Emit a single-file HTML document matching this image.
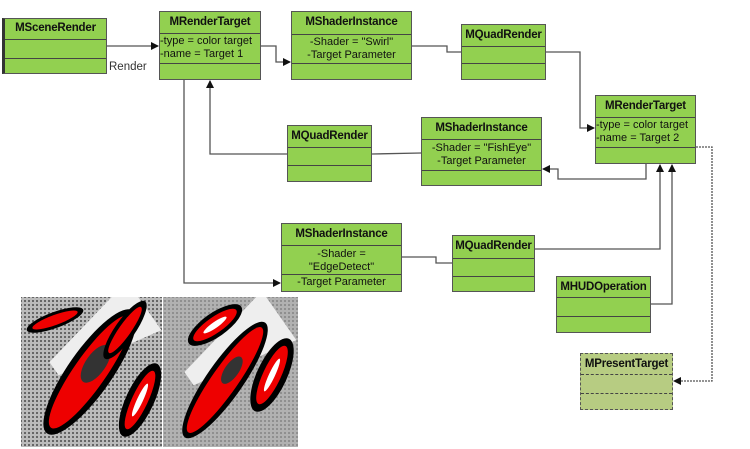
<!DOCTYPE html>
<html><head><meta charset="utf-8"><style>
body{margin:0;width:750px;height:449px;background:#fff;overflow:hidden;position:relative;font-family:"Liberation Sans",Arial,sans-serif}
.b{position:absolute;background:#92d050;border:1px solid #555;box-sizing:border-box}
.b div{box-sizing:border-box;border-top:1.5px solid #444;font-size:11px;color:#111;white-space:nowrap}
.b .h{border-top:none;font-weight:bold;font-size:11.5px;text-align:center;letter-spacing:-0.2px}
.p{background:#b7cc82;border:1px dashed #555}
.p div{border-top:1px dashed #444}
</style></head><body>
<div class="b" style="left:2px;top:18px;width:105px;height:56px;border-left:3px solid #333"><div class="h" style="height:20px;line-height:18px">MSceneRender</div><div style="height:19px"></div><div style="height:17px"></div></div>
<div class="b" style="left:159px;top:11px;width:102px;height:69px"><div class="h" style="height:21px;line-height:20px">MRenderTarget</div><div style="height:30px;line-height:13px;padding-top:1px">-type = color target<br>-name = Target 1</div><div style="height:18px"></div></div>
<div class="b" style="left:291px;top:11px;width:121px;height:69px"><div class="h" style="height:22px;line-height:20px">MShaderInstance</div><div style="height:29px;line-height:13px;text-align:center;padding-top:1px">-Shader = "Swirl"<br>-Target Parameter</div><div style="height:18px"></div></div>
<div class="b" style="left:461px;top:24px;width:85px;height:56px"><div class="h" style="height:21px;line-height:20px">MQuadRender</div><div style="height:17px"></div><div style="height:18px"></div></div>
<div class="b" style="left:595px;top:95px;width:101px;height:69px"><div class="h" style="height:21px;line-height:20px">MRenderTarget</div><div style="height:30px;line-height:13px;padding-top:1px">-type = color target<br>-name = Target 2</div><div style="height:18px"></div></div>
<div class="b" style="left:287px;top:125px;width:85px;height:57px"><div class="h" style="height:21px;line-height:20px">MQuadRender</div><div style="height:18px"></div><div style="height:18px"></div></div>
<div class="b" style="left:421px;top:117px;width:121px;height:69px"><div class="h" style="height:21px;line-height:20px">MShaderInstance</div><div style="height:31px;line-height:13px;text-align:center;padding-top:2px">-Shader = "FishEye"<br>-Target Parameter</div><div style="height:17px"></div></div>
<div class="b" style="left:281px;top:223px;width:121px;height:69px"><div class="h" style="height:21px;line-height:20px">MShaderInstance</div><div style="height:29px;line-height:13px;text-align:center;padding-top:2px">-Shader =<br>"EdgeDetect"</div><div style="height:19px;line-height:14px;text-align:center">-Target Parameter</div></div>
<div class="b" style="left:452px;top:235px;width:83px;height:57px"><div class="h" style="height:22px;line-height:20px">MQuadRender</div><div style="height:18px"></div><div style="height:17px"></div></div>
<div class="b" style="left:556px;top:276px;width:95px;height:57px"><div class="h" style="height:20px;line-height:20px">MHUDOperation</div><div style="height:19px"></div><div style="height:18px"></div></div>
<div class="b p" style="left:580px;top:353px;width:93px;height:57px"><div class="h" style="height:20px;line-height:20px">MPresentTarget</div><div style="height:19px"></div><div style="height:18px"></div></div>
<div style="position:absolute;left:109px;top:61px;font-size:11.5px;color:#333">Render</div>
<svg width="750" height="449" style="position:absolute;left:0;top:0" xmlns="http://www.w3.org/2000/svg">
<defs><marker id="a" markerWidth="8" markerHeight="8" refX="7" refY="4" orient="auto" markerUnits="userSpaceOnUse"><path d="M0,0L8,4L0,8z" fill="#111"/></marker>
<pattern id="g" width="4" height="4" patternUnits="userSpaceOnUse"><rect width="4" height="4" fill="#bbb"/><rect width="2" height="2" fill="#666"/></pattern>
<clipPath id="c1"><rect x="21" y="297" width="141" height="150"/></clipPath>
<clipPath id="c2"><rect x="163" y="297" width="135" height="150"/></clipPath></defs>
<g fill="none" stroke="#555" stroke-width="1.3">
<path d="M107,46H158" marker-end="url(#a)"/>
<path d="M261,46H276V62H290" marker-end="url(#a)"/>
<path d="M412,46H447V52H461"/>
<path d="M546,52H580V128H594" marker-end="url(#a)"/>
<path d="M646,164V179H558V169H543" marker-end="url(#a)"/>
<path d="M421,153L372,154"/>
<path d="M287,154H210V81" marker-end="url(#a)"/>
<path d="M184,80V283H280" marker-end="url(#a)"/>
<path d="M402,257H436V263H452"/>
<path d="M535,249H660V165" marker-end="url(#a)"/>
<path d="M651,304H672V165" marker-end="url(#a)"/>
<path d="M696,147H712V381H674" stroke-dasharray="2,1" marker-end="url(#a)"/>
</g>
<rect x="21" y="297" width="141" height="150" fill="url(#g)"/>
<rect x="163" y="297" width="135" height="150" fill="#aaa"/>
<rect x="163" y="297" width="135" height="150" fill="url(#g)" opacity="0.4"/>
<g clip-path="url(#c1)">
<g transform="translate(95,340) rotate(-35)"><polygon points="-50,-8 60,-30 60,30 -50,8" fill="#eee"/></g>
<g transform="translate(90,372) rotate(-55)"><ellipse rx="75" ry="22" fill="#000"/><ellipse rx="68" ry="16" fill="#e00"/><ellipse cx="10" rx="22" ry="10" fill="#333"/></g>
<g transform="translate(125,330) rotate(-55)"><ellipse rx="35" ry="10" fill="#000"/><ellipse rx="28" ry="6" fill="#e00"/></g>
<g transform="translate(140,400) rotate(-65)"><ellipse rx="40" ry="14" fill="#000"/><ellipse rx="32" ry="8" fill="#e00"/><ellipse rx="18" ry="3" fill="#fff"/></g>
<g transform="translate(55,320) rotate(-20)"><ellipse rx="30" ry="8" fill="#000"/><ellipse rx="24" ry="5" fill="#e00"/></g>
</g>
<g clip-path="url(#c2)">
<g transform="translate(230,350) rotate(-35)"><polygon points="-50,-8 60,-30 60,30 -50,8" fill="#eee"/></g>
<g transform="translate(225,380) rotate(-55)"><ellipse rx="70" ry="18" fill="#000"/><ellipse rx="64" ry="13" fill="#e00"/><ellipse cx="12" rx="16" ry="7" fill="#333"/></g>
<g transform="translate(215,325) rotate(-35)"><ellipse rx="32" ry="12" fill="#000"/><ellipse rx="26" ry="8" fill="#e00"/><ellipse rx="14" ry="3" fill="#fff"/></g>
<g transform="translate(272,375) rotate(-65)"><ellipse rx="40" ry="15" fill="#000"/><ellipse rx="32" ry="9" fill="#e00"/><ellipse rx="18" ry="3" fill="#fff"/></g>
</g>
</svg>
</body></html>
